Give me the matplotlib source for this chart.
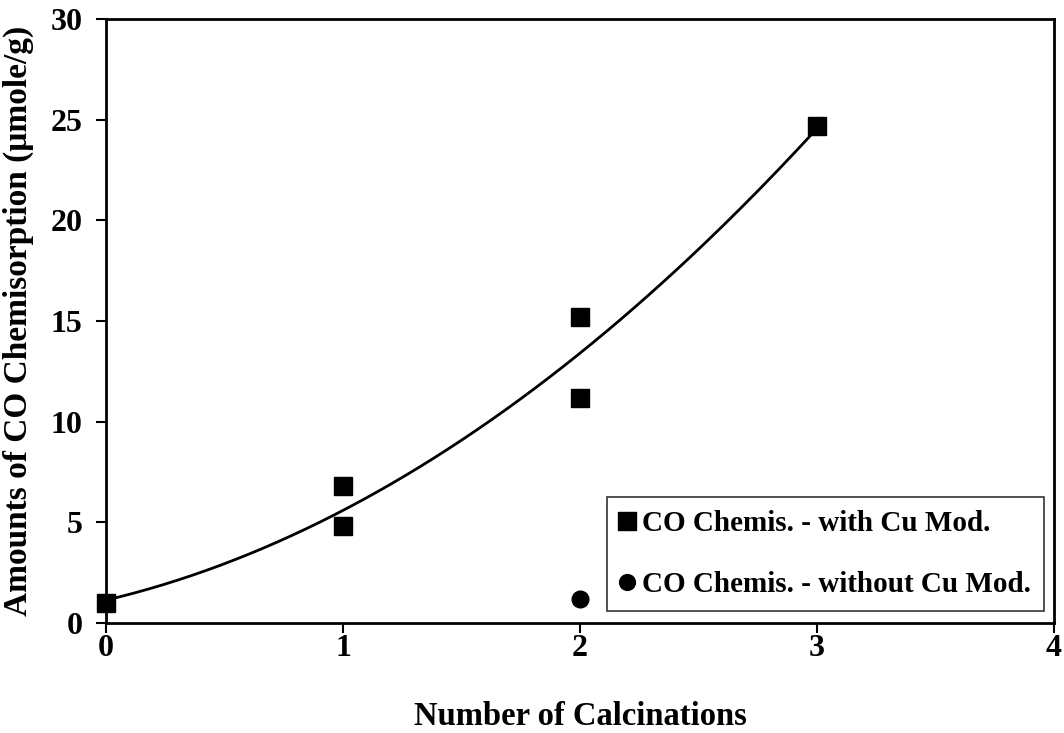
import numpy as np
import matplotlib
matplotlib.use("Agg")
import matplotlib.pyplot as plt

plt.rcParams['font.family'] = ['Liberation Serif', 'DejaVu Serif']
plt.rcParams['font.weight'] = 'bold'

# CO chemisorption vs number of calcinations
calc_cu = [0, 1, 1, 2, 2, 3]
chemi_cu = [1.0, 6.8, 4.8, 15.2, 11.2, 24.7]
calc_nocu = [2]
chemi_nocu = [1.2]

fig = plt.figure(figsize=(10.64, 7.33), dpi=100)
ax = fig.add_axes([0.0996, 0.150, 0.891, 0.824])

# 2nd order polynomial trend through the Cu-modified points
coef = np.polyfit(calc_cu, chemi_cu, 2)
xs = np.linspace(0, 3, 200)
ax.plot(xs, np.polyval(coef, xs), color='black', lw=2, zorder=2)

ax.plot(calc_cu, chemi_cu, 's', color='black', ms=13,
        label='CO Chemis. - with Cu Mod.', zorder=3, clip_on=False)
ax.plot(calc_nocu, chemi_nocu, 'o', color='black', ms=12,
        label='CO Chemis. - without Cu Mod.', zorder=3)

ax.set_xlim(0, 4)
ax.set_ylim(0, 30)
ax.set_xticks([0, 1, 2, 3, 4])
ax.set_yticks([0, 5, 10, 15, 20, 25, 30])
ax.tick_params(direction='out', length=7, width=1.5, labelsize=23)
ax.tick_params(axis='x', pad=1)
ax.tick_params(axis='y', pad=10)
for s in ax.spines.values():
    s.set_linewidth(2)

ax.set_xlabel('Number of Calcinations', fontsize=23.5, fontweight='bold', labelpad=27)
ax.set_ylabel('Amounts of CO Chemisorption (\u03bcmole/g)', fontsize=24,
              fontweight='bold', labelpad=12)

leg = ax.legend(loc='lower right', bbox_to_anchor=(0.989, 0.02), fontsize=21,
                frameon=True, fancybox=False, edgecolor='black',
                handlelength=0.5, handletextpad=0.25, borderpad=0.45,
                labelspacing=1.15, markerscale=0.95, borderaxespad=0)
leg.get_frame().set_linewidth(1.2)

fig.savefig('out.png', dpi=100)
